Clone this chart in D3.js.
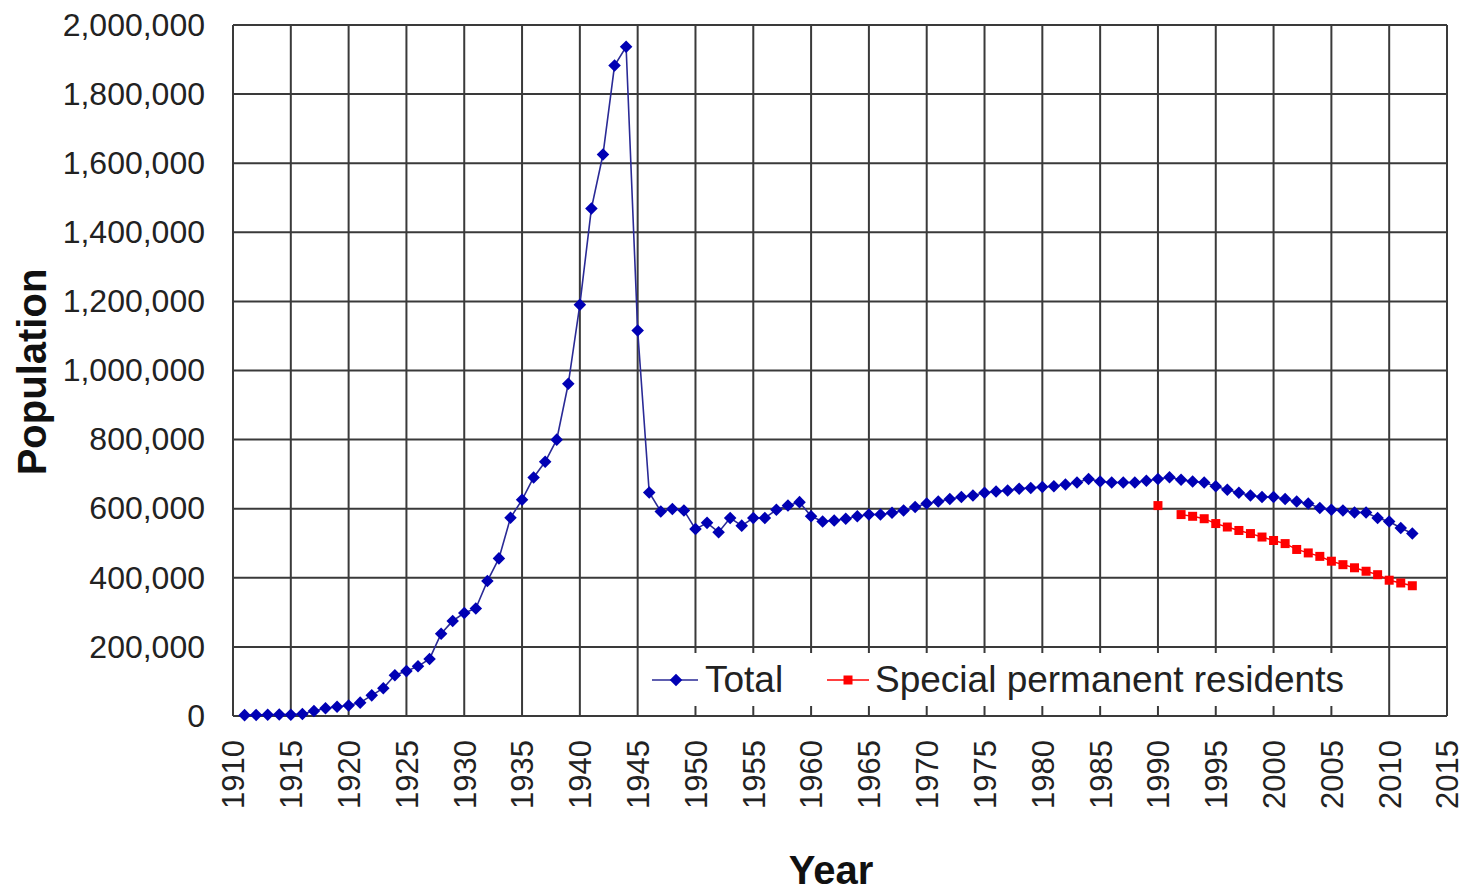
<!DOCTYPE html>
<html>
<head>
<meta charset="utf-8">
<script src="https://cdn.jsdelivr.net/npm/d3@7"></script>
<style>
  html, body { margin: 0; padding: 0; background: #fff; }
  svg { display: block; font-family: "Liberation Sans", Arial, sans-serif; }
</style>
</head>
<body>
<svg id="chart" width="1470" height="891"></svg>
<script>
// ---- Data ----
const years = d3.range(1911, 2013);
const totalValues = [
  2500, 3200, 3600, 4100, 3900, 5600, 14500, 22400, 26600, 30200,          // 1911-1920
  38700, 59700, 80400, 118200, 129900, 143800, 165300, 238100, 275200, 298100, // 1921-1930
  311200, 390500, 456200, 573700, 625700, 690500, 735700, 799900, 961600, 1190400, // 1931-1940
  1469200, 1625100, 1882500, 1936800, 1115600, 647000, 592000, 599000, 595000, 541000, // 1941-1950
  559000, 532000, 573000, 551000, 573000, 573000, 597000, 609000, 619000, 578000, // 1951-1960
  563000, 566000, 571000, 578000, 583000, 583000, 588000, 595000, 605000, 615000, // 1961-1970
  621000, 628000, 634000, 638000, 646000, 650000, 653000, 658000, 660000, 663000, // 1971-1980
  665000, 670000, 676000, 686000, 679000, 676000, 676000, 676000, 681000, 686000, // 1981-1990
  691000, 684000, 679000, 676000, 665000, 655000, 646000, 638000, 634000, 634000, // 1991-2000
  628000, 621000, 615000, 602000, 597000, 595000, 589000, 589000, 573000, 563000, // 2001-2010
  544000, 528000                                                              // 2011-2012
];
const specialYears = d3.range(1990, 2013);
const specialValues = [
  609000, null, 583000, 578000, 571000, 557000, 547000, 537000, 528000, 518000, 508000, // 1990-2000
  499000, 482000, 472000, 462000, 448000, 438000, 429000, 419000, 409000, 393000, // 2001-2010
  385000, 377000                                                              // 2011-2012
];
const xTickValues = d3.range(1910, 2016, 5);
const yTickValues = d3.range(0, 2000001, 200000);
const seriesNames = ["Total", "Special permanent residents"];
const xTitle = "Year";
const yTitle = "Population";

// ---- Layout ----
const svg = d3.select("#chart");
const plot = { left: 233, right: 1447, top: 25, bottom: 716 };
const x = d3.scaleLinear().domain([1910, 2015]).range([plot.left, plot.right]);
const y = d3.scaleLinear().domain([0, 2000000]).range([plot.bottom, plot.top]);

const gridColor = "#3a3a3a";
const blue = "#0000b4";
const red = "#ff0000";

// Gridlines
const g = svg.append("g");
g.selectAll("line.vx").data(xTickValues).join("line")
  .attr("x1", d => x(d)).attr("x2", d => x(d))
  .attr("y1", plot.top).attr("y2", plot.bottom)
  .attr("stroke", gridColor).attr("stroke-width", 2);
g.selectAll("line.hy").data(yTickValues).join("line")
  .attr("x1", plot.left).attr("x2", plot.right)
  .attr("y1", d => y(d)).attr("y2", d => y(d))
  .attr("stroke", gridColor).attr("stroke-width", 2);

// Axes (labels only via d3 axes)
const fmt = d3.format(",");
const yAxis = d3.axisLeft(y).tickValues(yTickValues).tickFormat(fmt).tickSize(0).tickPadding(28);
const yg = svg.append("g").attr("transform", `translate(${plot.left},0)`).call(yAxis);
yg.select(".domain").remove();
yg.selectAll("text").attr("font-size", 32).attr("fill", "#222")
  .attr("font-family", "'Liberation Sans', Arial, sans-serif");

const xAxis = d3.axisBottom(x).tickValues(xTickValues).tickFormat(d3.format("d")).tickSize(0);
const xg = svg.append("g").attr("transform", `translate(0,${plot.bottom})`).call(xAxis);
xg.select(".domain").remove();
xg.selectAll("text")
  .attr("font-size", 31).attr("fill", "#222")
  .attr("font-family", "'Liberation Sans', Arial, sans-serif")
  .attr("text-anchor", "end")
  .attr("y", 0).attr("dy", "0.35em")
  .attr("transform", "translate(0,24) rotate(-90)");

// Axis titles
svg.append("text").attr("x", 831).attr("y", 884).attr("text-anchor", "middle")
  .attr("font-size", 40).attr("font-weight", "bold").attr("fill", "#111").text(xTitle);
svg.append("text").attr("transform", "translate(46,372) rotate(-90)").attr("text-anchor", "middle")
  .attr("font-size", 40).attr("font-weight", "bold").attr("fill", "#111").text(yTitle);

// Legend box (white, covers gridlines)
svg.append("rect").attr("x", 645).attr("y", 653).attr("width", 740).attr("height", 53).attr("fill", "#fff");

// Series
const totalData = years.map((yr, i) => ({ year: yr, value: totalValues[i] }));
const specialData = specialYears.map((yr, i) => ({ year: yr, value: specialValues[i] }));
const line = d3.line().defined(d => d.value != null).x(d => x(d.year)).y(d => y(d.value));

svg.append("path").datum(totalData).attr("d", line)
  .attr("fill", "none").attr("stroke", "#2a2a96").attr("stroke-width", 1.6);
svg.append("path").datum(specialData).attr("d", line)
  .attr("fill", "none").attr("stroke", red).attr("stroke-width", 1.4);

const diamond = d3.symbol().type(d3.symbolDiamond2).size(100);
svg.append("g").selectAll("path").data(totalData).join("path")
  .attr("transform", d => `translate(${x(d.year)},${y(d.value)})`)
  .attr("d", diamond).attr("fill", blue);

const sq = 9;
svg.append("g").selectAll("rect").data(specialData.filter(d => d.value != null)).join("rect")
  .attr("x", d => x(d.year) - sq / 2).attr("y", d => y(d.value) - sq / 2)
  .attr("width", sq).attr("height", sq).attr("fill", red);

// Legend entries
const legendY = 680;
svg.append("line").attr("x1", 652).attr("x2", 698).attr("y1", legendY).attr("y2", legendY)
  .attr("stroke", "#2a2a96").attr("stroke-width", 1.6);
svg.append("path").attr("transform", `translate(676,${legendY})`).attr("d", diamond).attr("fill", blue);
svg.append("text").attr("x", 705).attr("y", 692).attr("font-size", 37).attr("fill", "#222").text(seriesNames[0]);

svg.append("line").attr("x1", 827).attr("x2", 869).attr("y1", legendY).attr("y2", legendY)
  .attr("stroke", red).attr("stroke-width", 1.4);
svg.append("rect").attr("x", 848 - sq / 2).attr("y", legendY - sq / 2).attr("width", sq).attr("height", sq).attr("fill", red);
svg.append("text").attr("x", 875).attr("y", 692).attr("font-size", 37).attr("fill", "#222").text(seriesNames[1]);
</script>
</body>
</html>
